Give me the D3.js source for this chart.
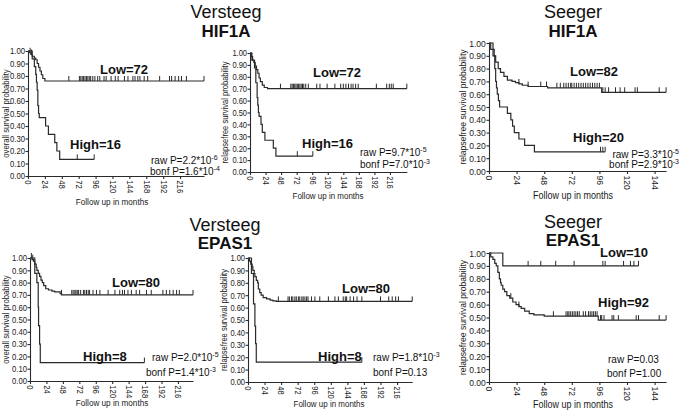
<!DOCTYPE html>
<html><head><meta charset="utf-8">
<script src="https://cdn.jsdelivr.net/npm/d3@7"></script>
<style>
body{margin:0;background:#fff;}
svg{display:block;}
</style></head><body>
<svg id="c" width="685" height="412"></svg>
<script>
// ---------- shared tick labels ----------
const yTicks = [0, 0.1, 0.2, 0.3, 0.4, 0.5, 0.6, 0.7, 0.8, 0.9, 1.0];
const xTicksVersteeg = [0, 24, 48, 72, 96, 120, 144, 168, 192, 216];
const xTicksSeeger = [0, 24, 48, 72, 96, 120, 144];

// ---------- Panel 1: Versteeg HIF1A overall survival ----------
const p1LowTime = [0, 2, 4, 6, 9, 11, 13, 15, 17, 19, 21, 24];
const p1LowSurv = [1.0, 0.986, 0.972, 0.958, 0.944, 0.93, 0.90, 0.87, 0.84, 0.81, 0.78, 0.76];
const p1LowCensor = [3, 5, 58, 73, 75, 77, 79, 81, 83, 85, 87, 89, 92, 95, 99, 102, 108, 111, 118, 124, 128, 137, 142, 149, 152, 156, 159, 165, 170, 187, 201, 204, 209, 214, 218, 225, 250];
const p1LowEnd = 250;
const p1HighTime = [0, 6, 9, 11, 12, 13, 14, 15, 16, 25, 29, 38, 41, 45];
const p1HighSurv = [1.0, 0.9375, 0.875, 0.8125, 0.75, 0.6875, 0.5625, 0.5, 0.467, 0.40, 0.333, 0.267, 0.20, 0.133];
const p1HighCensor = [70, 94];
const p1HighEnd = 94;

// ---------- Panel 2: Versteeg HIF1A relapse-free ----------
const p2LowTime = [0, 2, 4, 6, 8, 10, 12, 14, 16, 19, 22, 27];
const p2LowSurv = [1.0, 0.97, 0.94, 0.92, 0.89, 0.86, 0.83, 0.79, 0.76, 0.73, 0.71, 0.70];
const p2LowCensor = [47, 63, 65, 67, 69, 71, 73, 75, 77, 79, 81, 83, 86, 90, 103, 108, 119, 131, 140, 144, 148, 152, 156, 159, 163, 167, 195, 211, 215, 218, 221, 242];
const p2LowEnd = 242;
const p2HighTime = [0, 3, 7, 9, 11, 12, 13, 14, 17, 19, 23, 36, 40];
const p2HighSurv = [1.0, 0.9375, 0.875, 0.75, 0.625, 0.5625, 0.5, 0.467, 0.40, 0.333, 0.267, 0.20, 0.133];
const p2HighCensor = [73, 97];
const p2HighEnd = 97;

// ---------- Panel 3: Seeger HIF1A relapse-free ----------
const p3LowTime = [0, 1.5, 3.5, 5.8, 8, 10, 13, 16, 20, 23, 26, 29, 34, 51, 98];
const p3LowSurv = [1.0, 0.95, 0.90, 0.85, 0.80, 0.77, 0.74, 0.71, 0.70, 0.69, 0.68, 0.67, 0.66, 0.65, 0.615];
const p3LowCensor = [26, 34, 45, 50, 59, 62, 65, 67, 69, 71, 72, 74, 76, 78, 80, 82, 84, 86, 88, 90, 92, 94, 96, 99, 101, 104, 110, 114, 118, 127, 129, 148, 154];
const p3LowEnd = 154;
const p3HighTime = [0, 3.5, 4.5, 5, 5.8, 6.5, 7.2, 8.2, 9.2, 16, 19, 20.5, 22, 26, 31, 39.5];
const p3HighSurv = [1.0, 0.95, 0.90, 0.80, 0.70, 0.65, 0.60, 0.55, 0.50, 0.45, 0.40, 0.35, 0.30, 0.25, 0.20, 0.15];
const p3HighCensor = [97, 99, 101];
const p3HighEnd = 101;

// ---------- Panel 4: Versteeg EPAS1 overall survival ----------
const p4LowTime = [0, 3, 5, 7, 9, 10, 12, 14, 16, 18, 20, 23, 27, 32, 36, 44, 46];
const p4LowSurv = [1.0, 0.987, 0.975, 0.95, 0.925, 0.90, 0.875, 0.85, 0.82, 0.80, 0.775, 0.75, 0.74, 0.73, 0.725, 0.71, 0.70];
const p4LowCensor = [2, 4, 46, 61, 63, 65.5, 67, 69, 71, 74, 78, 80, 82.5, 85, 87, 92, 97, 102, 114, 124, 131, 135, 138, 143, 148, 155, 160, 170, 177, 194, 199, 204, 209, 214, 218, 238];
const p4LowEnd = 238;
const p4HighTime = [0, 7, 10, 12, 12.5, 14, 15];
const p4HighSurv = [1.0, 0.875, 0.80, 0.60, 0.45, 0.30, 0.15];
const p4HighCensor = [167];
const p4HighEnd = 167;

// ---------- Panel 5: Versteeg EPAS1 relapse-free ----------
const p5LowTime = [0, 2, 4, 6, 7, 9, 10, 12, 14, 15, 17, 19, 22, 27, 32, 36, 41];
const p5LowSurv = [1.0, 0.975, 0.95, 0.93, 0.90, 0.875, 0.85, 0.82, 0.80, 0.75, 0.72, 0.70, 0.68, 0.67, 0.66, 0.655, 0.65];
const p5LowCensor = [44, 58, 60, 63, 65, 68, 70, 73, 75, 78, 80, 82.5, 85, 87, 92, 97, 104, 116.5, 126, 131, 138, 141, 143, 148, 153, 158, 165, 192, 204, 209, 214, 218, 238];
const p5LowEnd = 238;
const p5HighTime = [0, 5, 8, 10, 11, 12];
const p5HighSurv = [1.0, 0.875, 0.63, 0.45, 0.31, 0.16];
const p5HighCensor = [165];
const p5HighEnd = 165;

// ---------- Panel 6: Seeger EPAS1 relapse-free ----------
const p6LowTime = [0, 12];
const p6LowSurv = [1.0, 0.90];
const p6LowCensor = [34, 45, 58, 74, 99, 101, 117, 123, 126, 130];
const p6LowEnd = 130;
const p6HighTime = [0, 1.5, 3.4, 5, 6.3, 7.7, 9, 10, 10.6, 12, 13.5, 15.5, 18, 20.7, 23.5, 26, 28, 31, 35, 39, 48, 95];
const p6HighSurv = [1.0, 0.97, 0.95, 0.92, 0.90, 0.85, 0.80, 0.77, 0.75, 0.72, 0.70, 0.67, 0.65, 0.62, 0.60, 0.585, 0.57, 0.55, 0.53, 0.52, 0.51, 0.48];
const p6HighCensor = [19, 26, 56, 67, 68.5, 69.5, 71, 72.5, 74, 75.5, 77, 78.5, 82, 84, 86.5, 88, 89.5, 91, 92.5, 94, 97, 98, 100, 107, 108.5, 112.5, 128, 130, 148, 154];
const p6HighEnd = 154;

// ---------- texts ----------
const groupTitles = [
  {study: "Versteeg", gene: "HIF1A"}, {study: "Seeger", gene: "HIF1A"},
  {study: "Versteeg", gene: "EPAS1"}, {study: "Seeger", gene: "EPAS1"}
];
const yTitleOS = "overall survival probability";
const yTitleRFS = "relapsefree survival probability";
const xTitle = "Follow up in months";
const lowLabels = ["Low=72", "Low=72", "Low=82", "Low=80", "Low=80", "Low=10"];
const highLabels = ["High=16", "High=16", "High=20", "High=8", "High=8", "High=92"];
const rawP = [["2.2*10", "-6"], ["9.7*10", "-5"], ["3.3*10", "-5"], ["2.0*10", "-5"], ["1.8*10", "-3"], ["0.03", ""]];
const bonfP = [["1.6*10", "-4"], ["7.0*10", "-3"], ["2.9*10", "-3"], ["1.4*10", "-3"], ["0.13", ""], ["1.00", ""]];

// ---------- layout (positions only) ----------
const panels = [
  {x0: 28, k: 0.704, yTop: 51, yBot: 176, xt: xTicksVersteeg, ytitle: yTitleOS, ytx: 6, fs: 9, sx: 0.86, xtX: 112, xtY: 202,
   low: [p1LowTime, p1LowSurv, p1LowCensor, p1LowEnd], high: [p1HighTime, p1HighSurv, p1HighCensor, p1HighEnd],
   lowPos: [100, 74], highPos: [70, 149], pPos: [151, 164, 150, 175], pAnchor: "start"},
  {x0: 250, k: 0.648, yTop: 53, yBot: 172, xt: xTicksVersteeg, ytitle: yTitleRFS, ytx: 225, fs: 9, sx: 0.84, xtX: 328, xtY: 196,
   low: [p2LowTime, p2LowSurv, p2LowCensor, p2LowEnd], high: [p2HighTime, p2HighSurv, p2HighCensor, p2HighEnd],
   lowPos: [313, 77], highPos: [302, 148], pPos: [360, 156, 360, 168], pAnchor: "start"},
  {x0: 489, k: 1.15, yTop: 43, yBot: 171, xt: xTicksSeeger, ytitle: yTitleRFS, ytx: 463, fs: 9.5, sx: 0.9, xtX: 573, xtY: 195,
   low: [p3LowTime, p3LowSurv, p3LowCensor, p3LowEnd], high: [p3HighTime, p3HighSurv, p3HighCensor, p3HighEnd],
   lowPos: [570, 76], highPos: [573, 142], pPos: [679, 158, 679, 168], pAnchor: "end"},
  {x0: 30, k: 0.685, yTop: 258, yBot: 381, xt: xTicksVersteeg, ytitle: yTitleOS, ytx: 6, fs: 9, sx: 0.86, xtX: 112, xtY: 403,
   low: [p4LowTime, p4LowSurv, p4LowCensor, p4LowEnd], high: [p4HighTime, p4HighSurv, p4HighCensor, p4HighEnd],
   lowPos: [112, 287], highPos: [83, 361], pPos: [152, 361, 146, 376], pAnchor: "start"},
  {x0: 248, k: 0.69, yTop: 258, yBot: 382, xt: xTicksVersteeg, ytitle: yTitleRFS, ytx: 224, fs: 9, sx: 0.84, xtX: 329, xtY: 404,
   low: [p5LowTime, p5LowSurv, p5LowCensor, p5LowEnd], high: [p5HighTime, p5HighSurv, p5HighCensor, p5HighEnd],
   lowPos: [342, 293], highPos: [318, 361], pPos: [373, 361, 373, 376], pAnchor: "start"},
  {x0: 489, k: 1.15, yTop: 253, yBot: 382, xt: xTicksSeeger, ytitle: yTitleRFS, ytx: 463, fs: 9.5, sx: 0.9, xtX: 573, xtY: 404,
   low: [p6LowTime, p6LowSurv, p6LowCensor, p6LowEnd], high: [p6HighTime, p6HighSurv, p6HighCensor, p6HighEnd],
   lowPos: [600, 257], highPos: [598, 307], pPos: [608, 363, 607, 377], pAnchor: "start"}
];
const titlePos = [[226, 17.5, 36.5], [573, 17.5, 36.5], [225, 230.5, 248.5], [573, 227.5, 246]];

const svg = d3.select("#c");
const ink = "#2a2a2a";
const SANS = "'Liberation Sans', Arial, sans-serif";

groupTitles.forEach((g, i) => {
  const [cx, y1, y2] = titlePos[i];
  svg.append("text").attr("x", cx).attr("y", y1).attr("text-anchor", "middle")
    .attr("font-family", SANS).attr("font-size", 18).attr("fill", "#111").text(g.study);
  svg.append("text").attr("x", cx).attr("y", y2).attr("text-anchor", "middle")
    .attr("font-family", SANS).attr("font-weight", "bold").attr("font-size", 17).attr("fill", "#111").text(g.gene);
});

function survAt(times, survs, t) {
  const i = Math.max(0, d3.bisectRight(times, t) - 1);
  return survs[i];
}

panels.forEach((p, idx) => {
  const endMonth = Math.max(p.low[3], p.high[3]);
  const x = d3.scaleLinear().domain([0, endMonth]).range([p.x0, p.x0 + endMonth * p.k]);
  const y = d3.scaleLinear().domain([0, 1]).range([p.yBot, p.yTop]);
  const g = svg.append("g");

  // y axis
  const ya = g.append("g").attr("transform", `translate(${p.x0},0)`)
    .call(d3.axisLeft(y).tickValues(yTicks).tickFormat(d3.format(".2f")).tickSize(2.5).tickSizeOuter(0).tickPadding(1));
  ya.selectAll("text").attr("font-size", p.fs).attr("font-family", SANS).attr("fill", "#1a1a1a")
    .attr("transform", `scale(${p.sx},1)`);
  ya.selectAll("path,line").attr("stroke", ink).attr("stroke-width", 1.1);

  // x axis
  const xa = g.append("g").attr("transform", `translate(0,${p.yBot})`)
    .call(d3.axisBottom(x).tickValues(p.xt).tickSize(3).tickSizeOuter(0));
  xa.selectAll("path,line").attr("stroke", ink).attr("stroke-width", 1.1);
  xa.selectAll("text").attr("font-size", p.fs).attr("font-family", SANS).attr("fill", "#1a1a1a")
    .attr("transform", `rotate(90) scale(${p.sx},1)`).attr("text-anchor", "start")
    .attr("x", 5).attr("y", 0).attr("dy", "0.35em");

  // axis titles
  g.append("text").attr("transform", `translate(${p.ytx},${(p.yTop + p.yBot) / 2}) rotate(-90) scale(${p.sx},1)`)
    .attr("text-anchor", "middle").attr("dy", "0.35em").attr("font-family", SANS)
    .attr("font-size", p.fs).attr("fill", "#1a1a1a").text(p.ytitle);
  g.append("text").attr("transform", `translate(${p.xtX},${p.xtY}) scale(${p.sx},1)`)
    .attr("text-anchor", "middle").attr("dy", "0.35em")
    .attr("font-family", SANS).attr("font-size", p.fs + 0.5).attr("fill", "#1a1a1a").text(xTitle);

  // curves
  const line = d3.line().x(d => x(d[0])).y(d => y(d[1])).curve(d3.curveStepAfter);
  [p.low, p.high].forEach(([times, survs, censor, end]) => {
    const pts = times.map((t, i) => [t, survs[i]]);
    pts.push([end, survs[survs.length - 1]]);
    g.append("path").attr("d", line(pts)).attr("fill", "none").attr("stroke", ink).attr("stroke-width", 1.2);
    g.selectAll(null).data(censor).enter().append("line")
      .attr("x1", d => x(d)).attr("x2", d => x(d))
      .attr("y1", d => y(survAt(times, survs, d))).attr("y2", d => y(survAt(times, survs, d)) - 5)
      .attr("stroke", ink).attr("stroke-width", 1);
  });

  // group labels
  g.append("text").attr("x", p.lowPos[0]).attr("y", p.lowPos[1]).attr("font-family", SANS)
    .attr("font-weight", "bold").attr("font-size", 13).attr("fill", "#111").text(lowLabels[idx]);
  g.append("text").attr("x", p.highPos[0]).attr("y", p.highPos[1]).attr("font-family", SANS)
    .attr("font-weight", "bold").attr("font-size", 13).attr("fill", "#111").text(highLabels[idx]);

  // p values
  const pv = [["raw P=", rawP[idx], p.pPos[0], p.pPos[1]], ["bonf P=", bonfP[idx], p.pPos[2], p.pPos[3]]];
  pv.forEach(([lab, val, tx, ty]) => {
    const t = g.append("text").attr("x", tx).attr("y", ty).attr("text-anchor", p.pAnchor)
      .attr("font-family", SANS).attr("font-size", 10).attr("fill", "#111");
    t.append("tspan").text(lab + val[0]);
    if (val[1]) t.append("tspan").attr("dy", -4).attr("font-size", 7).text(val[1]);
  });
});
</script>
</body></html>
